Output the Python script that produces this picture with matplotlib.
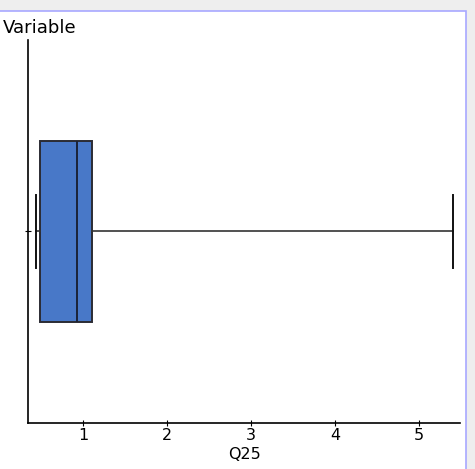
import matplotlib
matplotlib.use("Agg")
import matplotlib.pyplot as plt
from matplotlib.patches import Rectangle

# box statistics for Q25
var_name = "Q25"
whisker_low = 0.44
q1 = 0.485
median = 0.93
q3 = 1.105
whisker_high = 5.41
x_ticks = [1, 2, 3, 4, 5]

fig = plt.figure(figsize=(4.75, 4.69), dpi=100, facecolor="#eeeeee")
# white panel with the light blue frame line (only top and right visible)
fig.patches.append(Rectangle((-0.05, -0.05), 466 / 475 + 0.05, (469 - 11.5) / 469 + 0.05,
                             transform=fig.transFigure, facecolor="white", edgecolor="#a8a8ff",
                             linewidth=1.2, zorder=-10))

ax = fig.add_axes([28.3 / 475, (469 - 422.7) / 469, (460 - 28.3) / 475, (422.7 - 40) / 469])
ax.set_facecolor("none")
ax.set_zorder(5)

stats = [dict(whislo=whisker_low, q1=q1, med=median, q3=q3, whishi=whisker_high, fliers=[])]
ax.bxp(stats, positions=[0], widths=0.472, capwidths=0.19, vert=False, patch_artist=True,
       boxprops=dict(facecolor="#4878c8", edgecolor="#2b2b33", linewidth=1.4),
       medianprops=dict(color="#1a2238", linewidth=1.4),
       whiskerprops=dict(color="#333333", linewidth=1.2),
       capprops=dict(color="#111111", linewidth=1.4))

ax.set_xlim(0.345, 5.49)
ax.set_ylim(-0.5, 0.5)
ax.set_xticks(x_ticks)
ax.set_xticklabels([str(t) for t in x_ticks])
ax.set_yticks([0])
ax.set_yticklabels([""])
ax.tick_params(axis="both", direction="inout", length=5, width=0.8, labelsize=11.5, pad=1)

for s in ["top", "right"]:
    ax.spines[s].set_visible(False)
for s in ["left", "bottom"]:
    ax.spines[s].set_linewidth(1.2)

ax.set_xlabel(var_name, fontsize=11.5, labelpad=3)
# label sits at the top left and runs off the left edge, as in the original
ax.set_ylabel("Variable", fontsize=13, rotation=0, ha="right", va="baseline")
ax.yaxis.set_label_coords((76 - 28.3) / (460 - 28.3), (422.7 - 33) / 382.7)

fig.savefig("out.png", dpi=100, facecolor=fig.get_facecolor())
